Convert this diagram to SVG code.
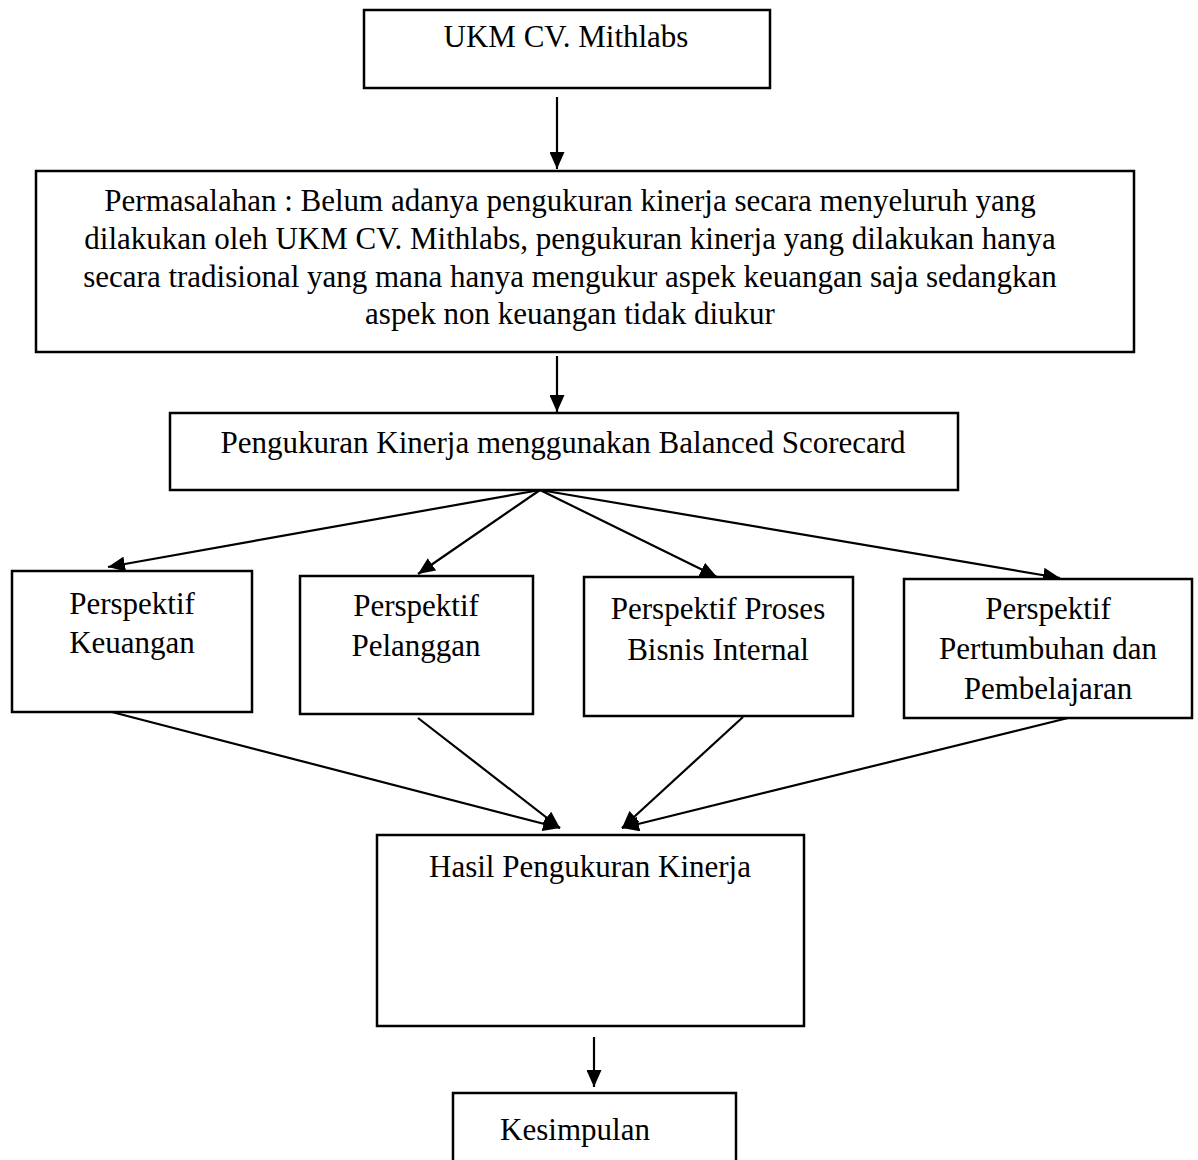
<svg xmlns="http://www.w3.org/2000/svg" width="1198" height="1160" viewBox="0 0 1198 1160">
<defs>
<marker id="arr" viewBox="0 0 17 15" refX="17" refY="7.5" markerWidth="17" markerHeight="15" orient="auto" markerUnits="userSpaceOnUse">
<path d="M0,0 L17,7.5 L0,15 Z" fill="#000"/>
</marker>
</defs>
<style>
.box{fill:#fff;stroke:#000;stroke-width:2.5}
.t{font-family:"Liberation Serif","Times New Roman",serif;font-size:31px;fill:#000;text-anchor:middle}
.c{fill:none;stroke:#000;stroke-width:2.2;marker-end:url(#arr)}
</style>
<rect width="1198" height="1160" fill="#fff"/>
<g id="connectors">
<line class="c" x1="557" y1="97" x2="557" y2="169"/>
<line class="c" x1="557" y1="356" x2="557" y2="412"/>
<line class="c" x1="540" y1="490" x2="108" y2="567"/>
<line class="c" x1="540" y1="490" x2="418" y2="574"/>
<line class="c" x1="540" y1="490" x2="717" y2="577"/>
<line class="c" x1="540" y1="490" x2="1060" y2="578"/>
<line class="c" x1="108" y1="711" x2="560" y2="828"/>
<line class="c" x1="418" y1="718" x2="560" y2="828"/>
<line class="c" x1="743" y1="717" x2="622" y2="828"/>
<line class="c" x1="1068" y1="718" x2="622" y2="828"/>
<line class="c" x1="594" y1="1037" x2="594" y2="1087"/>
</g>
<g id="ukm">
<rect class="box" x="364" y="10" width="406" height="78"/>
<text class="t" x="566" y="47">UKM CV. Mithlabs</text>
</g>
<g id="permasalahan">
<rect class="box" x="36" y="171" width="1098" height="181"/>
<text class="t" x="570" y="211">Permasalahan : Belum adanya pengukuran kinerja secara menyeluruh yang</text>
<text class="t" x="570" y="249">dilakukan oleh UKM CV. Mithlabs, pengukuran kinerja yang dilakukan hanya</text>
<text class="t" x="570" y="287">secara tradisional yang mana hanya mengukur aspek keuangan saja sedangkan</text>
<text class="t" x="570" y="324">aspek non keuangan tidak diukur</text>
</g>
<g id="bsc">
<rect class="box" x="170" y="413" width="788" height="77"/>
<text class="t" x="563" y="453">Pengukuran Kinerja menggunakan Balanced Scorecard</text>
</g>
<g id="keuangan">
<rect class="box" x="12" y="571" width="240" height="141"/>
<text class="t" x="132" y="614">Perspektif</text>
<text class="t" x="132" y="653">Keuangan</text>
</g>
<g id="pelanggan">
<rect class="box" x="300" y="576" width="233" height="138"/>
<text class="t" x="416" y="616">Perspektif</text>
<text class="t" x="416" y="656">Pelanggan</text>
</g>
<g id="proses">
<rect class="box" x="584" y="577" width="269" height="139"/>
<text class="t" x="718" y="619">Perspektif Proses</text>
<text class="t" x="718" y="660">Bisnis Internal</text>
</g>
<g id="pertumbuhan">
<rect class="box" x="904" y="579" width="288" height="139"/>
<text class="t" x="1048" y="619">Perspektif</text>
<text class="t" x="1048" y="659">Pertumbuhan dan</text>
<text class="t" x="1048" y="699">Pembelajaran</text>
</g>
<g id="hasil">
<rect class="box" x="377" y="835" width="427" height="191"/>
<text class="t" x="590" y="877">Hasil Pengukuran Kinerja</text>
</g>
<g id="kesimpulan">
<rect class="box" x="453" y="1093" width="283" height="90"/>
<text class="t" x="575" y="1140">Kesimpulan</text>
</g>
</svg>
